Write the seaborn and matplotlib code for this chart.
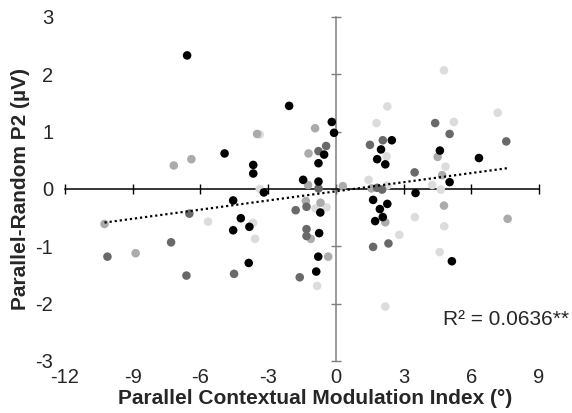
import numpy as np
import pandas as pd
import matplotlib
matplotlib.use('Agg')
import matplotlib.pyplot as plt
import seaborn as sns

# values, one list per shade
black_x = [-6.59, -2.07, -4.93, -3.66, -3.66, -3.19, -4.55, -0.18, -0.08, -0.52, -0.77, -1.45,
           -0.77, -0.69, -4.21, -3.83, -4.55, -0.74, -0.78, -3.86, -0.87, 2.48, 2.00, 1.83,
           2.19, 1.65, 2.28, 1.95, 2.08, 1.74, 3.53, 4.61, 5.04, 6.34, 5.14]
black_y = [2.33, 1.45, 0.62, 0.42, 0.27, -0.06, -0.20, 1.17, 0.98, 0.60, 0.45, 0.16,
           0.13, -0.41, -0.51, -0.66, -0.72, -0.77, -1.18, -1.29, -1.44, 0.85, 0.69, 0.52,
           0.43, -0.19, -0.26, -0.35, -0.49, -0.56, -0.07, 0.67, 0.12, 0.54, -1.26]

dark_x = [-1.78, -0.43, -0.77, -0.77, -1.30, -1.30, -1.30, -4.51, -1.60, -6.49, -7.30, -10.12,
          -6.62, 1.51, 2.08, 1.83, 2.05, 3.49, 4.40, 5.04, 7.55, 1.65, 2.33]
dark_y = [-0.37, 0.75, 0.66, 0.01, -0.31, -0.70, -0.82, -1.48, -1.54, -0.43, -0.93, -1.18,
          -1.51, 0.77, 0.85, 0.02, -0.01, 0.29, 1.15, 0.96, 0.83, -1.01, -0.95]

mid_x = [-3.49, -6.40, -7.18, -0.92, -1.21, -1.23, 0.31, -1.33, -0.68, -1.11, -0.34, -10.25,
         -8.87, 1.58, 4.51, 4.71, 4.79, 2.19, 7.61]
mid_y = [0.96, 0.52, 0.41, 1.06, 0.62, 0.07, 0.05, -0.21, -0.24, -0.87, -1.18, -0.61,
         -1.12, 0.01, 0.56, 0.24, -0.29, -0.58, -0.52]

light_x = [-3.37, -3.37, -0.41, -0.90, -3.67, -3.58, -0.83, -5.66, 2.28, 1.80, 2.25, 1.45,
           2.28, 4.79, 5.23, 4.86, 4.27, 4.65, 7.17, 3.50, 4.80, 2.81, 4.60, 2.19]
light_y = [0.95, 0.00, -0.32, -0.34, -0.59, -0.87, -1.69, -0.57, 1.44, 1.15, 0.57, 0.16,
           0.06, 2.07, 1.17, 0.39, 0.07, -0.01, 1.33, -0.49, -0.65, -0.80, -1.10, -2.05]

x_ticks = [-12, -9, -6, -3, 0, 3, 6, 9]
y_ticks = [-3, -2, -1, 0, 1, 2, 3]
r2_label = 'R² = 0.0636**'

df = pd.concat([
    pd.DataFrame({'x': light_x, 'y': light_y, 'group': 'light'}),
    pd.DataFrame({'x': mid_x, 'y': mid_y, 'group': 'mid'}),
    pd.DataFrame({'x': dark_x, 'y': dark_y, 'group': 'dark'}),
    pd.DataFrame({'x': black_x, 'y': black_y, 'group': 'black'}),
], ignore_index=True)
palette = {'black': '#000000', 'dark': '#696969', 'mid': '#ababab', 'light': '#dcdcdc'}

sns.set_style('white')
plt.rcParams['font.family'] = ['Liberation Sans', 'DejaVu Sans']

fig = plt.figure(figsize=(5.72, 4.13), dpi=100)
rect = [65 / 572, 52 / 413, 474 / 572, 344 / 413]
ax = fig.add_axes(rect)

sns.scatterplot(data=df, x='x', y='y', hue='group', palette=palette, s=38,
                edgecolor='none', linewidth=0, legend=False, ax=ax, zorder=3)
sns.regplot(data=df, x='x', y='y', scatter=False, ci=None, truncate=True, ax=ax,
            line_kws=dict(color='black', lw=1.6, linestyle=(0, (1, 1.3)), zorder=4))

ax.set_xlim(-12, 9)
ax.set_ylim(-3, 3)
ax.set_xticks(x_ticks)
ax.set_yticks(y_ticks)
ax.set_xticklabels([str(t) for t in x_ticks])
ax.set_yticklabels([str(t) for t in y_ticks])
for s in ax.spines.values():
    s.set_visible(False)
ax.tick_params(axis='x', length=0, pad=5, labelsize=14.5)
ax.tick_params(axis='y', length=0, pad=8.5, labelsize=14.5)
ax.patch.set_alpha(0)

ax.set_xlabel('Parallel Contextual Modulation Index (°)', fontsize=15, fontweight='bold')
ax.xaxis.set_label_coords((315.5 - 65) / 474, -(398 - 361) / 344)
ax.xaxis.label.set_va('center')
ax.set_ylabel('Parallel-Random P2 (µV)', fontsize=15, fontweight='bold')
ax.yaxis.set_label_coords(-(65 - 21) / 474, 0.5)
ax.yaxis.label.set_va('center')

ax.text((569 - 65) / 474, (361 - 325) / 344, r2_label, transform=ax.transAxes,
        ha='right', va='baseline', fontsize=15)

# axes crossing at zero, drawn on an overlay that shares the scales
ax2 = fig.add_axes(rect, sharex=ax, sharey=ax)
ax2.patch.set_visible(False)
ax2.grid(False)
ax2.spines['top'].set_visible(False)
ax2.spines['right'].set_visible(False)
ax2.spines['left'].set_position(('data', 0))
ax2.spines['bottom'].set_position(('data', 0))
ax2.spines['left'].set_color('#7f7f7f')
ax2.spines['bottom'].set_color('black')
ax2.spines['left'].set_linewidth(1.1)
ax2.spines['bottom'].set_linewidth(1.1)
ax2.tick_params(axis='x', direction='inout', length=7, width=1, color='black',
                labelbottom=False, bottom=True)
ax2.tick_params(axis='y', direction='inout', length=7, width=1, color='#7f7f7f',
                labelleft=False, left=True)
ax2.set_zorder(0)
ax.set_zorder(1)

fig.savefig('out.png', dpi=100)
